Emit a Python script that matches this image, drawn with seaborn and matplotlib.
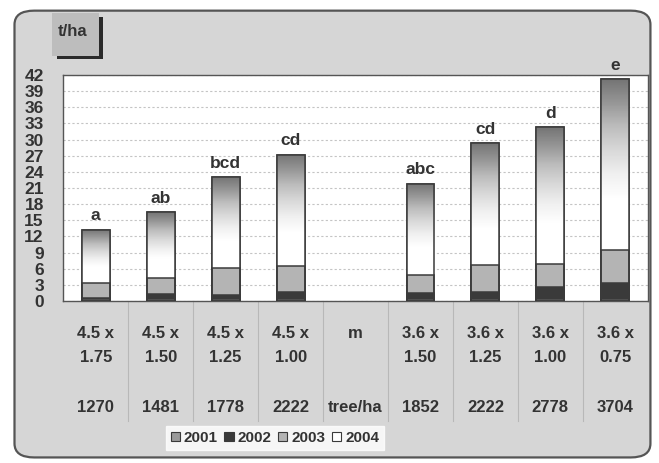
import numpy as np
import pandas as pd
import seaborn as sns
import matplotlib.pyplot as plt
from matplotlib.patches import FancyBboxPatch, Rectangle, Patch

# ---------------- data ----------------
spacing_row1 = ['4.5 x', '4.5 x', '4.5 x', '4.5 x', 'm', '3.6 x', '3.6 x', '3.6 x', '3.6 x']
spacing_row2 = ['1.75', '1.50', '1.25', '1.00', '', '1.50', '1.25', '1.00', '0.75']
density_row = ['1270', '1481', '1778', '2222', 'tree/ha', '1852', '2222', '2778', '3704']
groups = ['a', 'ab', 'bcd', 'cd', '', 'abc', 'cd', 'd', 'e']
slots = ['s1', 's2', 's3', 's4', 'gap', 's5', 's6', 's7', 's8']

bar_slots = ['s1', 's2', 's3', 's4', 's5', 's6', 's7', 's8']
y2001 = [0.3, 0.3, 0.3, 0.3, 0.3, 0.3, 0.3, 0.3]
y2002 = [0.2, 0.9, 0.8, 1.3, 1.2, 1.4, 2.3, 3.0]
y2003 = [2.9, 3.1, 5.1, 4.9, 3.4, 5.0, 4.3, 6.2]
y2004 = [9.8, 12.2, 16.8, 20.7, 16.9, 22.6, 25.4, 31.7]
years = ['2001', '2002', '2003', '2004']

df = pd.DataFrame({'slot': bar_slots, '2001': y2001, '2002': y2002,
                   '2003': y2003, '2004': y2004})
df['c2001'] = df['2001']
df['c2002'] = df['c2001'] + df['2002']
df['c2003'] = df['c2002'] + df['2003']
df['c2004'] = df['c2003'] + df['2004']

plt.rcParams['font.family'] = ['Liberation Sans', 'DejaVu Sans']
txt_col = '#333333'

fig = plt.figure(figsize=(6.59, 4.63), dpi=100)
fig.patch.set_facecolor('white')

# chart-area panel with rounded corners
panel = FancyBboxPatch((0.022, 0.012), 0.965, 0.965, boxstyle='round,pad=0,rounding_size=0.03',
                       transform=fig.transFigure, facecolor='#d6d6d6', edgecolor='#555555',
                       linewidth=1.6, zorder=-5)
fig.patches.append(panel)

ax = fig.add_axes([0.096, 0.35, 0.887, 0.488])
ax.set_facecolor('white')

bar_w = 0.43
kw = dict(order=slots, errorbar=None, width=bar_w, ax=ax, edgecolor='#3a3a3a', linewidth=1.1)

# top layer (2004) -> gradient fill
sns.barplot(data=df, x='slot', y='c2004', color='white', zorder=2, **kw)
top_patches = list(ax.patches)
grad = np.linspace(0, 1, 256).reshape(-1, 1)
for p, lo, hi in zip(top_patches, df['c2003'], df['c2004']):
    x0, y0 = p.get_x(), p.get_y()
    w, h = p.get_width(), p.get_height()
    start = (lo + 0.3 * (hi - lo)) / hi
    g = np.clip((grad - start) / (1 - start), 0, 1) * 0.62
    im = ax.imshow(g, extent=(x0, x0 + w, y0, y0 + h), origin='lower', cmap='Greys',
                   vmin=0, vmax=1, aspect='auto', zorder=2.1, interpolation='bilinear')
    im.set_clip_path(p)

sns.barplot(data=df, x='slot', y='c2003', color='#b4b4b4', zorder=3, **kw)
sns.barplot(data=df, x='slot', y='c2002', color='#3a3a3a', zorder=4, **kw)
sns.barplot(data=df, x='slot', y='c2001', color='#9a9a9a', zorder=5, **kw)

# outline of the whole bar on top
for p in top_patches:
    ax.add_patch(Rectangle((p.get_x(), 0), p.get_width(), p.get_height(), fill=False,
                           edgecolor='#3a3a3a', linewidth=1.1, zorder=6))

# significance letters
tot = dict(zip(df['slot'], df['c2004']))
for i, (s, g) in enumerate(zip(slots, groups)):
    if g:
        ax.text(i, tot[s] + 1.2, g, ha='center', va='bottom', fontsize=12.5,
                color=txt_col, fontweight='bold')

ax.set_xlim(-0.5, 8.5)
ax.set_ylim(0, 42)
ax.set_yticks(np.arange(0, 43, 3))
ax.set_yticklabels([str(v) for v in range(0, 43, 3)], fontsize=12.5, color=txt_col,
                   fontweight='bold')
ax.tick_params(axis='y', length=0, pad=14)
ax.set_xticks([])
ax.set_xlabel('')
ax.set_ylabel('')
ax.grid(axis='y', color='#c4c4c4', linestyle=(0, (2, 2)), linewidth=0.8, zorder=0)
ax.set_axisbelow(True)
for sp in ax.spines.values():
    sp.set_color('#555555')
    sp.set_linewidth(1.0)

# table under the axis
trans = ax.get_xaxis_transform()
for i in range(9):
    ax.text(i, -0.145, spacing_row1[i], transform=trans, ha='center', va='center',
            fontsize=12, color=txt_col, fontweight='bold')
    ax.text(i, -0.25, spacing_row2[i], transform=trans, ha='center', va='center',
            fontsize=12, color=txt_col, fontweight='bold')
    ax.text(i, -0.47, density_row[i], transform=trans, ha='center', va='center',
            fontsize=12, color=txt_col, fontweight='bold')
for b in np.arange(0.5, 8, 1.0):
    ax.plot([b, b], [0, -0.53], transform=trans, color='#b8b8b8', linewidth=0.8,
            clip_on=False)

# unit box
box = FancyBboxPatch((0.079, 0.88), 0.071, 0.092, boxstyle='square,pad=0',
                     transform=fig.transFigure, facecolor='#bdbdbd', edgecolor='none', zorder=1)
shadow = FancyBboxPatch((0.086, 0.872), 0.071, 0.092, boxstyle='square,pad=0',
                        transform=fig.transFigure, facecolor='#2a2a2a', edgecolor='none', zorder=0.9)
fig.patches.extend([shadow, box])
fig.text(0.087, 0.932, 't/ha', fontsize=12, fontweight='bold', color=txt_col, va='center')

# legend
colors = ['#9a9a9a', '#3a3a3a', '#b4b4b4', 'white']
handles = [Patch(facecolor=c, edgecolor='#3a3a3a', linewidth=0.8) for c in colors]
leg = fig.legend(handles, years, loc='center', bbox_to_anchor=(0.417, 0.054), ncol=4,
                 frameon=True, fancybox=False, fontsize=11, handlelength=0.6,
                 handleheight=0.6, handletextpad=0.25, columnspacing=0.45,
                 borderpad=0.3, edgecolor='white')
leg.get_frame().set_facecolor('white')
for t in leg.get_texts():
    t.set_color(txt_col)
    t.set_fontweight('bold')

fig.savefig('out.png', dpi=100)
